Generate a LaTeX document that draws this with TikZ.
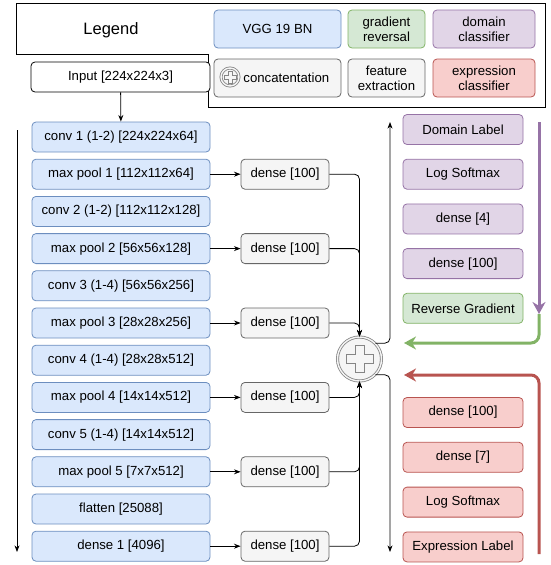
\documentclass[tikz,border=0pt]{standalone}
\usepackage{fontspec}
\setmainfont{Liberation Sans}
\usetikzlibrary{arrows.meta,positioning,calc}
\definecolor{vggfill}{HTML}{DAE8FC}
\definecolor{vggline}{HTML}{6C8EBF}
\definecolor{gradfill}{HTML}{D5E8D4}
\definecolor{gradline}{HTML}{82B366}
\definecolor{domfill}{HTML}{E1D5E7}
\definecolor{domline}{HTML}{9673A6}
\definecolor{featfill}{HTML}{F5F5F5}
\definecolor{featline}{HTML}{666666}
\definecolor{exprfill}{HTML}{F8CECC}
\definecolor{exprline}{HTML}{B85450}
\newcommand{\boxh}{30pt}
% plus sign of the concatenation symbol, #1 = centre, #2 = arm, #3 = half width
\newcommand{\catplus}[3]{
  \draw[featline!80, line width=0.6pt, shift={(#1)}]
    (#3,#2) -- (#3,#3) -- (#2,#3) -- (#2,-#3) -- (#3,-#3) -- (#3,-#2) -- (-#3,-#2)
    -- (-#3,-#3) -- (-#2,-#3) -- (-#2,#3) -- (-#3,#3) -- (-#3,#2) -- cycle;
}
\tikzset{
    basesty/.style={rounded corners=4pt, minimum height=\boxh, inner sep=0pt, align=center},
    inputsty/.style={basesty, draw=black, fill=white, minimum width=179pt},
    vggsty/.style={basesty, draw=vggline, fill=vggfill, minimum width=178pt},
    featsty/.style={basesty, draw=featline, fill=featfill, minimum width=88pt},
    domsty/.style={basesty, draw=domline, fill=domfill, minimum width=120pt},
    revsty/.style={basesty, draw=gradline, fill=gradfill, minimum width=120pt},
    exprsty/.style={basesty, draw=exprline, fill=exprfill, minimum width=120pt},
    legsty/.style={minimum height=38pt},
    catsty/.style={circle, draw=featline!80, double=featfill, double distance=1.4pt, fill=featfill, inner sep=0pt},
    flowsty/.style={->, rounded corners=5pt},
    gradsty/.style={line width=3pt, rounded corners=8pt, -{Stealth[length=12pt,width=13pt]}},
}

\begin{document}
\begin{tikzpicture}[x=1pt, y=-1pt, >=Stealth, line width=0.8pt, font=\fontsize{13.2}{15}\selectfont]
  \useasboundingbox (0,0) rectangle (551,565);

  % legend
  \draw (16,3) -- (545,3) -- (545,107) -- (208,107) -- (208,54) -- (16,54) -- cycle;
  \node (leg) at (111,30) {\fontsize{16.5}{18}\selectfont Legend};
  \node[vggsty, legsty, minimum width=127pt] (lvgg) at (277.5,29) {VGG 19 BN};
  \node[revsty, legsty, minimum width=77pt] (lrev) at (386.5,29) {gradient\\reversal};
  \node[domsty, legsty, minimum width=102pt] (ldom) at (484,29) {domain\\classifier};
  \node[featsty, legsty, minimum width=127pt] (lcat) at (277.5,78) {};
  \node[anchor=west, inner sep=0pt] (lcattxt) at (243,78) {concatentation};
  \node[catsty, minimum size=18pt] (lcatsym) at (230,77) {};
  \catplus{lcatsym}{6}{2}
  \node[featsty, legsty, minimum width=77pt] (lfeat) at (386.5,78) {feature\\extraction};
  \node[exprsty, legsty, minimum width=102pt] (lexpr) at (484,78) {expression\\classifier};

  % backbone
  \node[inputsty] (inp) at (120.5,77) {Input [224x224x3]};
  \node[vggsty] (c1) at (121,137) {conv 1 (1-2) [224x224x64]};
  \node[vggsty, below=6.4pt of c1] (p1) {max pool 1 [112x112x64]};
  \node[vggsty, below=6.4pt of p1] (c2) {conv 2 (1-2) [112x112x128]};
  \node[vggsty, below=6.4pt of c2] (p2) {max pool 2 [56x56x128]};
  \node[vggsty, below=6.4pt of p2] (c3) {conv 3 (1-4) [56x56x256]};
  \node[vggsty, below=6.4pt of c3] (p3) {max pool 3 [28x28x256]};
  \node[vggsty, below=6.4pt of p3] (c4) {conv 4 (1-4) [28x28x512]};
  \node[vggsty, below=6.4pt of c4] (p4) {max pool 4 [14x14x512]};
  \node[vggsty, below=6.4pt of p4] (c5) {conv 5 (1-4) [14x14x512]};
  \node[vggsty, below=6.4pt of c5] (p5) {max pool 5 [7x7x512]};
  \node[vggsty, below=6.4pt of p5] (fl) {flatten [25088]};
  \node[vggsty, below=6.4pt of fl] (f1) {dense 1 [4096]};
  \coordinate (ltop) at (17,130);
  \coordinate (lbot) at (17,552);
  \draw[->] (ltop) -- (lbot);
  \draw[->] (inp) -- (c1);

  % feature extraction
  \node[featsty, right=30.2pt of p1] (d1) {dense [100]};
  \node[featsty, right=30.2pt of p2] (d2) {dense [100]};
  \node[featsty, right=30.2pt of p3] (d3) {dense [100]};
  \node[featsty, right=30.2pt of p4] (d4) {dense [100]};
  \node[featsty, right=30.2pt of p5] (d5) {dense [100]};
  \node[featsty, right=30.2pt of f1] (d6) {dense [100]};
  \draw[->] (p1) -- (d1);
  \draw[->] (p2) -- (d2);
  \draw[->] (p3) -- (d3);
  \draw[->] (p4) -- (d4);
  \draw[->] (p5) -- (d5);
  \draw[->] (f1) -- (d6);

  % concatenation
  \node[catsty, minimum size=44pt] (cat) at (359.5,359) {};
  \catplus{cat}{13.5}{4.5}
  \draw[flowsty] (d1.east) -| (cat.north);
  \draw[flowsty] (d2.east) -| (cat.north);
  \draw[flowsty] (d3.east) -| (cat.north);
  \draw[flowsty] (d4.east) -| (cat.south);
  \draw[flowsty] (d5.east) -| (cat.south);
  \draw[flowsty] (d6.east) -| (cat.south);
  \coordinate (otop) at (390,122);
  \coordinate (obot) at (390,552);
  \draw[flowsty] (cat.45) -| (otop);
  \draw[flowsty] (cat.-45) -| (obot);

  % domain classifier
  \node[domsty] (dlab) at (463,129.5) {Domain Label};
  \node[domsty, below=13.9pt of dlab] (dsm) {Log Softmax};
  \node[domsty, below=13.9pt of dsm] (dd4) {dense [4]};
  \node[domsty, below=13.9pt of dd4] (dd100) {dense [100]};
  \node[revsty, below=13.9pt of dd100] (rev) {Reverse Gradient};

  % expression classifier
  \node[exprsty] (ed100) at (463,412.5) {dense [100]};
  \node[exprsty, below=14pt of ed100] (ed7) {dense [7]};
  \node[exprsty, below=14pt of ed7] (esm) {Log Softmax};
  \node[exprsty, below=14pt of esm] (elab) {Expression Label};

  % gradient flow
  \coordinate (domtop) at (539,122);
  \coordinate (revmid) at (539,314);
  \coordinate (revend) at (404,343);
  \coordinate (exptail) at (539,554);
  \coordinate (expend) at (404,375);
  \draw[gradsty, domline] (domtop) -- (revmid);
  \draw[gradsty, gradline] (revmid) |- (revend);
  \draw[gradsty, exprline] (exptail) |- (expend);
\end{tikzpicture}
\end{document}
